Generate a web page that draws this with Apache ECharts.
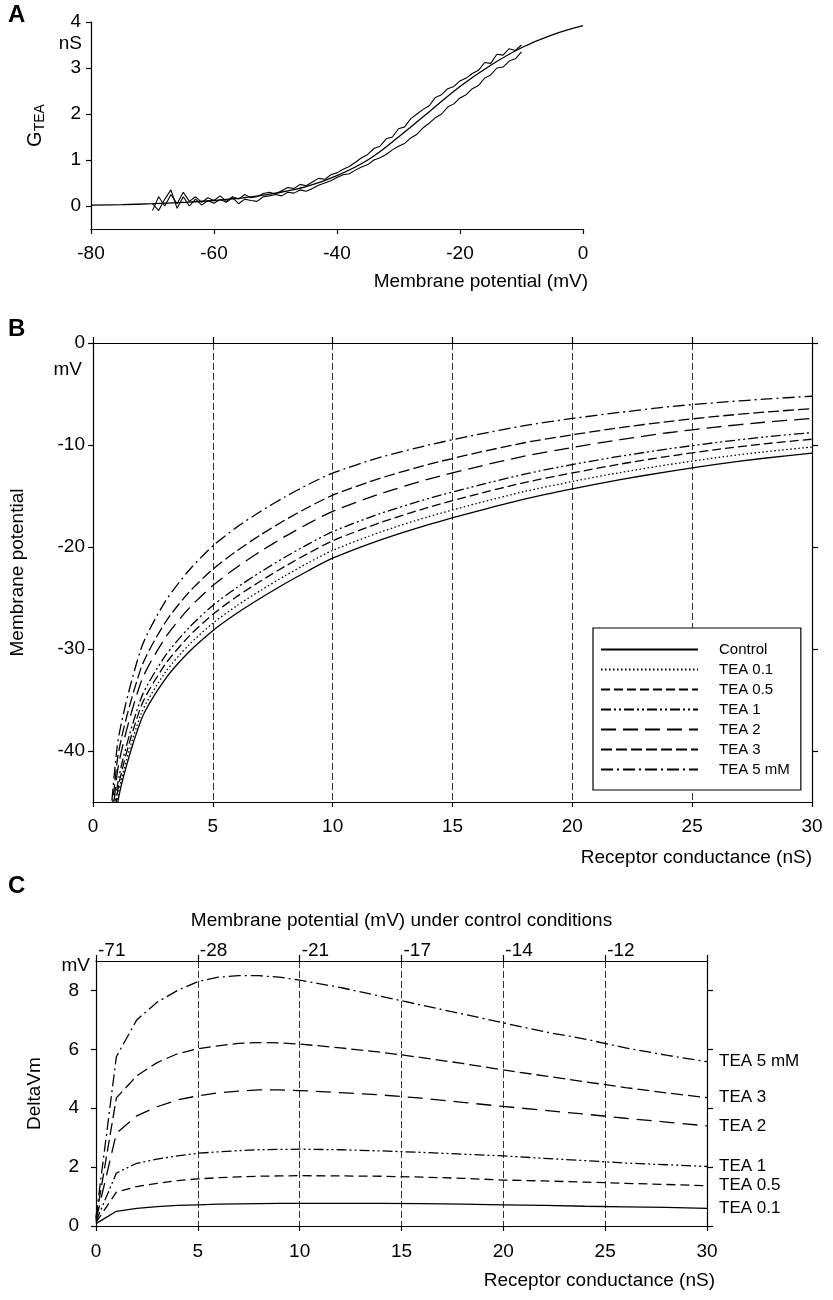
<!DOCTYPE html>
<html>
<head>
<meta charset="utf-8">
<script src="https://cdn.jsdelivr.net/npm/echarts@6/dist/echarts.min.js"></script>
<style>
  html, body { margin: 0; background: #fff; }
  #chart { width: 833px; height: 1300px; }
</style>
</head>
<body>
<div id="chart"></div>
<script>
// ---- panel A: G_TEA vs membrane potential ----
const fitX = [-80, -75, -70, -65, -60, -55, -50, -45, -40, -35, -30, -25, -20, -15, -10, -5, 0];
const fitY = [0.02, 0.03, 0.05, 0.08, 0.12, 0.18, 0.28, 0.42, 0.66, 1.0, 1.5, 2.05, 2.6, 3.06, 3.44, 3.72, 3.92];

const traceX = [-70, -69, -68, -67, -66, -65, -64, -63, -62, -61, -60, -59, -58, -57, -56, -55, -54, -53, -52, -51,
  -50, -49, -48, -47, -46, -45, -44, -43, -42, -41, -40, -39, -38, -37, -36, -35, -34, -33, -32, -31,
  -30, -29, -28, -27, -26, -25, -24, -23, -22, -21, -20, -19, -18, -17, -16, -15, -14, -13, -12, -11, -10];
const traceUp = [-0.1, 0.2, 0.0, 0.25, 0.05, 0.3, 0.1, 0.2, 0.08, 0.18, 0.12, 0.22, 0.1, 0.2, 0.15, 0.25, 0.18, 0.2, 0.27, 0.3,
  0.26, 0.33, 0.4, 0.38, 0.47, 0.44, 0.52, 0.6, 0.58, 0.68, 0.72, 0.8, 0.86, 0.95, 1.05, 1.12, 1.25, 1.3, 1.46, 1.5,
  1.68, 1.72, 1.9, 2.0, 2.1, 2.18, 2.36, 2.42, 2.55, 2.6, 2.72, 2.78, 2.88, 2.95, 3.12, 3.1, 3.3, 3.28, 3.42, 3.38, 3.5];
const traceDown = [0.05, -0.1, 0.15, 0.35, -0.05, 0.2, 0.0, 0.15, 0.02, 0.12, 0.06, 0.14, 0.08, 0.18, 0.05, 0.15, 0.12, 0.1, 0.2, 0.22,
  0.25, 0.22, 0.3, 0.28, 0.35, 0.32, 0.38, 0.45, 0.5, 0.55, 0.62, 0.68, 0.7, 0.78, 0.85, 0.9, 1.0, 1.05, 1.12, 1.22,
  1.3, 1.36, 1.48, 1.56, 1.7, 1.8, 1.92, 2.0, 2.15, 2.22, 2.35, 2.42, 2.55, 2.62, 2.78, 2.85, 3.0, 3.02, 3.15, 3.2, 3.35];

// ---- panel B: membrane potential vs receptor conductance ----
const condX = [0, 1, 2, 3, 4, 5, 6, 7, 8, 9, 10, 12, 14, 16, 18, 20, 22, 24, 26, 28, 30];
const bNames = ['Control', 'TEA 0.1', 'TEA 0.5', 'TEA 1', 'TEA 2', 'TEA 3', 'TEA 5 mM'];
const vmControl = [-71, -45.5, -37.0, -33.0, -30.3, -28.2, -26.5, -25.0, -23.6, -22.3, -21.1, -19.3, -17.8, -16.5, -15.3, -14.3, -13.4, -12.6, -11.9, -11.3, -10.8];
const vmTea01 = [-70.9, -45.0, -36.4, -32.34, -29.6, -27.48, -25.76, -24.25, -22.84, -21.53, -20.33, -18.53, -17.03, -15.74, -14.56, -13.58, -12.7, -11.93, -11.25, -10.67, -10.2];
const vmTea05 = [-70.9, -44.35, -35.66, -31.55, -28.76, -26.6, -24.86, -23.33, -21.91, -20.6, -19.39, -17.6, -16.11, -14.84, -13.68, -12.74, -11.87, -11.11, -10.45, -9.89, -9.43];
const vmTea1 = [-70.85, -43.7, -34.87, -30.73, -27.92, -25.73, -23.98, -22.44, -21.01, -19.7, -18.49, -16.71, -15.25, -14.0, -12.86, -11.92, -11.1, -10.38, -9.76, -9.22, -8.78];
const vmTea2 = [-70.8, -42.35, -33.26, -28.95, -26.02, -23.78, -21.98, -20.42, -18.98, -17.68, -16.5, -14.77, -13.35, -12.16, -11.1, -10.24, -9.47, -8.8, -8.24, -7.77, -7.4];
const vmTea3 = [-70.75, -41.15, -31.9, -27.45, -24.45, -22.18, -20.38, -18.8, -17.37, -16.08, -14.92, -13.25, -11.9, -10.78, -9.78, -9.0, -8.3, -7.7, -7.2, -6.78, -6.44];
const vmTea5 = [-70.7, -39.75, -30.0, -25.4, -22.3, -19.9, -18.05, -16.5, -15.1, -13.85, -12.75, -11.2, -10.0, -9.0, -8.1, -7.4, -6.8, -6.25, -5.85, -5.5, -5.22];

// ---- panel C: DeltaVm vs receptor conductance ----
const cLabels = ['TEA 0.1', 'TEA 0.5', 'TEA 1', 'TEA 2', 'TEA 3', 'TEA 5 mM'];
const dTea01 = [0.08, 0.5, 0.6, 0.66, 0.7, 0.72, 0.74, 0.75, 0.76, 0.77, 0.77, 0.77, 0.77, 0.76, 0.74, 0.72, 0.7, 0.67, 0.65, 0.63, 0.6];
const dTea05 = [0.12, 1.15, 1.34, 1.45, 1.54, 1.6, 1.64, 1.67, 1.69, 1.7, 1.71, 1.7, 1.69, 1.66, 1.62, 1.56, 1.53, 1.49, 1.45, 1.41, 1.37];
const dTea1 = [0.15, 1.8, 2.13, 2.27, 2.38, 2.47, 2.52, 2.56, 2.59, 2.6, 2.61, 2.59, 2.55, 2.5, 2.44, 2.38, 2.3, 2.22, 2.14, 2.08, 2.02];
const dTea2 = [0.2, 3.15, 3.74, 4.05, 4.28, 4.42, 4.52, 4.58, 4.62, 4.62, 4.6, 4.53, 4.45, 4.34, 4.2, 4.06, 3.93, 3.8, 3.66, 3.53, 3.4];
const dTea3 = [0.25, 4.35, 5.1, 5.55, 5.85, 6.02, 6.12, 6.2, 6.23, 6.22, 6.18, 6.05, 5.9, 5.72, 5.52, 5.3, 5.1, 4.9, 4.7, 4.52, 4.36];
const dTea5 = [0.3, 5.75, 7.0, 7.6, 8.0, 8.3, 8.45, 8.5, 8.5, 8.45, 8.35, 8.1, 7.8, 7.5, 7.2, 6.9, 6.6, 6.35, 6.05, 5.8, 5.58];
const topTickLabels = ['-71', '-28', '-21', '-17', '-14', '-12'];

const FONT = '"Liberation Sans", Arial, sans-serif';
const TXT = { color: '#000', fontFamily: FONT, fontSize: 19 };
const pairs = (xs, ys) => xs.map((x, i) => [x, ys[i]]);

const bDash = ['solid', [1.5, 2.5], [9, 4], [10, 3, 2, 3, 2, 3], [15, 7], [11, 4], [12, 4, 2, 4]];
const bSeriesY = [vmControl, vmTea01, vmTea05, vmTea1, vmTea2, vmTea3, vmTea5];
const cDash = ['solid', [9, 5], [10, 3, 2, 3, 2, 3], [15, 8], [12, 5], [12, 4, 2, 4]];
const cSeriesY = [dTea01, dTea05, dTea1, dTea2, dTea3, dTea5];

const blackLine = { show: true, onZero: false, lineStyle: { color: '#000', width: 1.2 } };
const tickOut = (len) => ({ show: true, inside: false, length: len, lineStyle: { color: '#000', width: 1.2 } });
const dashedGrid = { show: true, showMinLine: false, showMaxLine: false, lineStyle: { color: '#333', width: 1, type: [7, 3] } };

const chart = echarts.init(document.getElementById('chart'), null, { renderer: 'canvas' });

const series = [];
series.push(
  { type: 'line', xAxisIndex: 0, yAxisIndex: 0, data: pairs(traceX, traceUp), symbol: 'none',
    lineStyle: { color: '#000', width: 1.1 }, z: 3 },
  { type: 'line', xAxisIndex: 0, yAxisIndex: 0, data: pairs(traceX, traceDown), symbol: 'none',
    lineStyle: { color: '#000', width: 1.1 }, z: 3 },
  { type: 'line', xAxisIndex: 0, yAxisIndex: 0, data: pairs(fitX, fitY), symbol: 'none', smooth: 0.4,
    lineStyle: { color: '#000', width: 1.3 }, z: 4 }
);
bNames.forEach((name, i) => {
  series.push({
    name, type: 'line', xAxisIndex: 1, yAxisIndex: 1, data: pairs(condX, bSeriesY[i]),
    symbol: 'none', smooth: 0.25, color: '#000',
    lineStyle: { color: '#000', width: 1.3, type: bDash[i] }
  });
});
cLabels.forEach((label, i) => {
  series.push({
    name: 'ΔVm ' + label, type: 'line', xAxisIndex: 3, yAxisIndex: 3, data: pairs(condX, cSeriesY[i]),
    symbol: 'none', color: '#000',
    lineStyle: { color: '#000', width: 1.3, type: cDash[i] },
    endLabel: { show: true, formatter: () => label, distance: 12, color: '#000', fontFamily: FONT, fontSize: 17 }
  });
});

const text = (str, x, y, align, extra) => ({
  type: 'text', x, y,
  style: Object.assign({ text: str, fill: '#000', font: '19px ' + FONT, align, verticalAlign: 'middle' }, extra || {})
});

const option = {
  animation: false,
  backgroundColor: '#fff',
  grid: [
    { left: 91, top: 22, width: 492, height: 207 },
    { left: 89, top: 343, width: 723, height: 459 },
    { left: 96, top: 961, width: 611, height: 265 }
  ],
  xAxis: [
    { gridIndex: 0, type: 'value', min: -80, max: 0, interval: 20, axisLine: blackLine, axisTick: tickOut(5),
      axisLabel: Object.assign({ margin: 15 }, TXT), splitLine: { show: false } },
    { gridIndex: 1, type: 'value', min: 0, max: 30, interval: 5, axisLine: blackLine, axisTick: tickOut(5),
      axisLabel: Object.assign({ margin: 15 }, TXT), splitLine: dashedGrid },
    { gridIndex: 1, type: 'value', position: 'top', min: 0, max: 30, interval: 5, axisLine: blackLine, axisTick: tickOut(6),
      axisLabel: { show: false }, splitLine: { show: false } },
    { gridIndex: 2, type: 'value', min: 0, max: 30, interval: 5, axisLine: blackLine, axisTick: tickOut(5),
      axisLabel: Object.assign({ margin: 16 }, TXT), splitLine: dashedGrid },
    { gridIndex: 2, type: 'value', position: 'top', min: 0, max: 30, interval: 5, axisLine: blackLine, axisTick: tickOut(6),
      axisLabel: Object.assign({ margin: 1, align: 'left', padding: [0, 0, 0, 2],
        formatter: (v) => topTickLabels[Math.round(v / 5)] || '' }, TXT),
      name: 'Membrane potential (mV) under control conditions', nameLocation: 'middle', nameGap: 31,
      nameTextStyle: TXT, splitLine: { show: false } }
  ],
  yAxis: [
    { gridIndex: 0, type: 'value', min: -0.5, max: 4, axisLine: blackLine,
      axisTick: Object.assign(tickOut(5), { customValues: [0, 1, 2, 3, 4] }),
      axisLabel: Object.assign({ margin: 10, customValues: [0, 1, 2, 3, 4] }, TXT), splitLine: { show: false },
      name: '{g|G}{s|TEA}', nameLocation: 'middle', nameGap: 44, nameRotate: 90,
      nameTextStyle: { rich: { g: { fontSize: 20, fontFamily: FONT, color: '#000' },
        s: { fontSize: 14, fontFamily: FONT, color: '#000', padding: [9, 0, 0, 0] } } } },
    { gridIndex: 1, type: 'value', min: -45, max: 0, axisLine: blackLine,
      axisTick: Object.assign(tickOut(5), { customValues: [-40, -30, -20, -10, 0] }),
      axisLabel: Object.assign({ margin: 8, customValues: [-40, -30, -20, -10, 0] }, TXT), splitLine: { show: false },
      name: 'Membrane potential', nameLocation: 'middle', nameGap: 66, nameTextStyle: TXT },
    { gridIndex: 1, type: 'value', position: 'right', min: -45, max: 0, axisLine: blackLine,
      axisTick: Object.assign(tickOut(6), { customValues: [-40, -30, -20, -10, 0] }),
      axisLabel: { show: false }, splitLine: { show: false } },
    { gridIndex: 2, type: 'value', min: 0, max: 9, axisLine: blackLine,
      axisTick: Object.assign(tickOut(5), { customValues: [0, 2, 4, 6, 8] }),
      axisLabel: Object.assign({ margin: 17, customValues: [0, 2, 4, 6, 8] }, TXT), splitLine: { show: false },
      name: 'DeltaVm', nameLocation: 'middle', nameGap: 52, nameTextStyle: TXT },
    { gridIndex: 2, type: 'value', position: 'right', min: 0, max: 9, axisLine: blackLine,
      axisTick: Object.assign(tickOut(6), { customValues: [0, 2, 4, 6, 8] }),
      axisLabel: { show: false }, splitLine: { show: false } }
  ],
  legend: {
    data: bNames, orient: 'vertical', left: 593, top: 628,
    itemWidth: 97, itemHeight: 14, itemGap: 5,
    padding: [14, 11, 13, 7],
    backgroundColor: '#fff', borderColor: '#000', borderWidth: 1.2, borderRadius: 0,
    selectedMode: false,
    itemStyle: { opacity: 0 },
    textStyle: { color: '#000', fontFamily: FONT, fontSize: 15, padding: [0, 0, 0, 16] }
  },
  graphic: [
    text('A', 8, 15, 'left', { font: 'bold 24px ' + FONT }),
    text('B', 8, 329, 'left', { font: 'bold 24px ' + FONT }),
    text('C', 8, 886, 'left', { font: 'bold 24px ' + FONT }),
    text('nS', 82, 44, 'right'),
    text('mV', 82, 370, 'right'),
    text('mV', 90, 966, 'right'),
    text('Membrane potential (mV)', 588, 282, 'right'),
    text('Receptor conductance (nS)', 812, 858, 'right'),
    text('Receptor conductance (nS)', 715, 1281, 'right')
  ],
  series
};

chart.setOption(option);
</script>
</body>
</html>
